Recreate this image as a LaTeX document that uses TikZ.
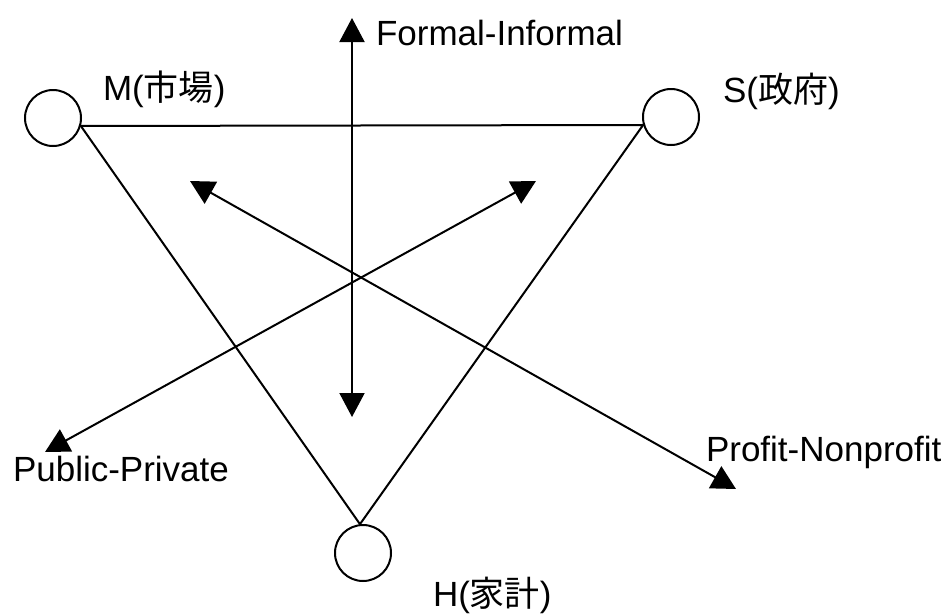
\documentclass[tikz,border=0pt]{standalone}
\usepackage{fontspec}
\setmainfont{Liberation Sans}
\newfontfamily\jpfont{Noto Sans CJK JP}
\usetikzlibrary{arrows.meta}
\tikzset{
  sector/.style={circle, draw, line width=2pt, minimum size=56pt, inner sep=0pt},
  axislabel/.style={anchor=base west, inner sep=0pt, font=\fontsize{35}{42}\selectfont},
}
\begin{document}
\begin{tikzpicture}[x=1pt, y=-1pt, line width=2pt, >={Triangle[length=24pt, width=25pt]}]
        \useasboundingbox (0,0) rectangle (951,614);
        % Sectors
        \foreach \n/\x/\y in {M/53/118, S/671/117, H/363/553} {
            \node[sector] (\n) at (\x, \y) {};
        }
        \node[axislabel] (labM) at (102, 100) {M({\jpfont 市場})};
        \node[axislabel] (labS) at (722, 102) {S({\jpfont 政府})};
        \node[axislabel] (labH) at (432, 606) {H({\jpfont 家計})};
        % Triangle between the sectors
        \draw (M.-16) -- (S.196) -- (H.96) -- cycle;
        % Axes
        \coordinate (fTop) at (352, 18);
        \coordinate (fBot) at (352, 417);
        \coordinate (pubEnd) at (45, 452);
        \coordinate (pubTop) at (536, 181);
        \coordinate (proTop) at (190, 181);
        \coordinate (proEnd) at (736, 489);
        \draw[<->] (fBot) -- (fTop);
        \draw[<->] (pubEnd) -- (pubTop);
        \draw[<->] (proTop) -- (proEnd);
        \node[axislabel] (labF) at (375, 45) {Formal-Informal};
        \node[axislabel] (labPub) at (12, 481) {Public-Private};
        \node[axislabel] (labPro) at (705, 461) {Profit-Nonprofit};
    \end{tikzpicture}
\end{document}
